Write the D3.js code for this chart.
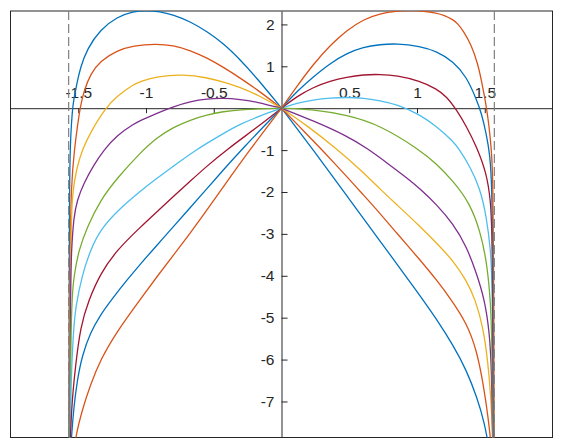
<!DOCTYPE html>
<html>
<head>
<meta charset="utf-8">
<script src="https://cdn.jsdelivr.net/npm/d3@7"></script>
<style>
body { margin: 0; background: #fff; }
text { font-family: Arial, "Liberation Sans", Helvetica, sans-serif; }
</style>
</head>
<body>
<svg id="chart" width="561" height="448"></svg>
<script>
// tick values
var xTicks = [-1.5, -1, -0.5, 0.5, 1, 1.5];
var yTicks = [2, 1, -1, -2, -3, -4, -5, -6, -7];
var asymptotes = [-Math.PI / 2, Math.PI / 2];
var colors = ['#0072BD', '#D95319', '#EDB120', '#7E2F8E', '#77AC30', '#4DBEEE', '#A2142F', '#0072BD', '#D95319'];

// curves, [x, y]
var curve1 = [[-1.569,-8.2],[-1.566,-3.0],[-1.563,-1.0],[-1.543,0],[-1.533,0.2],[-1.51,0.6],[-1.484,0.97],[-1.434,1.42],[-1.336,1.88],[-1.213,2.18],[-1.093,2.31],[-1.0,2.33],[-0.9,2.31],[-0.798,2.23],[-0.675,2.07],[-0.55,1.83],[-0.43,1.55],[-0.305,1.16],[-0.182,0.72],[0,0],[0.235,-1.0],[0.482,-2.09],[0.727,-3.17],[1.022,-4.47],[1.145,-5.04],[1.267,-5.66],[1.366,-6.26],[1.44,-6.88],[1.50,-7.52],[1.535,-8.2]];
var curve2 = [[-1.567,-8.2],[-1.561,-3.5],[-1.552,-1.8],[-1.528,-0.98],[-1.505,-0.4],[-1.484,0.05],[-1.459,0.40],[-1.41,0.82],[-1.336,1.13],[-1.213,1.38],[-1.093,1.49],[-0.93,1.54],[-0.798,1.50],[-0.673,1.38],[-0.55,1.20],[-0.43,0.98],[-0.305,0.72],[-0.182,0.45],[0,0],[0.187,-0.62],[0.297,-0.99],[0.482,-1.63],[0.604,-2.07],[0.727,-2.51],[0.85,-2.98],[1.022,-3.62],[1.145,-4.10],[1.255,-4.58],[1.366,-5.13],[1.44,-5.77],[1.488,-6.56],[1.525,-7.36],[1.552,-8.2]];
var curve3 = [[-1.565,-8.2],[-1.557,-3.0],[-1.543,-2.0],[-1.513,-1.45],[-1.47,-0.98],[-1.40,-0.52],[-1.30,0],[-1.213,0.29],[-1.091,0.57],[-1.042,0.64],[-0.919,0.76],[-0.723,0.81],[-0.55,0.73],[-0.428,0.63],[-0.305,0.50],[-0.182,0.33],[0,0],[0.182,-0.40],[0.408,-0.97],[0.604,-1.53],[0.727,-1.93],[0.85,-2.30],[1.022,-2.82],[1.145,-3.22],[1.267,-3.64],[1.366,-4.12],[1.427,-4.54],[1.488,-5.21],[1.525,-6.1],[1.545,-6.9],[1.557,-7.75],[1.561,-8.2]];
var curve4 = [[-1.563,-8.2],[-1.557,-4.17],[-1.550,-3.38],[-1.533,-2.59],[-1.508,-2.19],[-1.459,-1.79],[-1.386,-1.36],[-1.312,-1.0],[-1.213,-0.64],[-1.091,-0.38],[-1.042,-0.29],[-0.919,-0.12],[-0.796,0.04],[-0.673,0.16],[-0.55,0.225],[-0.43,0.24],[-0.305,0.21],[-0.182,0.15],[0,0],[0.235,-0.30],[0.482,-0.66],[0.629,-0.95],[0.801,-1.36],[0.924,-1.66],[1.022,-1.92],[1.145,-2.30],[1.267,-2.76],[1.366,-3.30],[1.44,-3.95],[1.50,-4.58],[1.535,-5.36],[1.550,-6.17],[1.560,-8.2]];
var curve5 = [[-1.562,-8.2],[-1.554,-5.29],[-1.545,-4.50],[-1.533,-4.02],[-1.496,-3.38],[-1.434,-2.83],[-1.336,-2.19],[-1.213,-1.67],[-1.042,-1.06],[-0.919,-0.70],[-0.796,-0.45],[-0.673,-0.28],[-0.55,-0.16],[-0.43,-0.08],[-0.305,-0.03],[0,0],[0.235,-0.03],[0.482,-0.16],[0.727,-0.40],[1.022,-1.0],[1.145,-1.33],[1.267,-1.74],[1.39,-2.27],[1.464,-2.91],[1.513,-3.62],[1.543,-4.58],[1.553,-5.53],[1.562,-8.2]];
var curve6 = [[-1.560,-8.2],[-1.554,-6.48],[-1.537,-5.4],[-1.521,-4.75],[-1.471,-3.98],[-1.41,-3.38],[-1.336,-2.90],[-1.213,-2.45],[-1.042,-1.98],[-0.919,-1.67],[-0.796,-1.38],[-0.636,-1.0],[-0.428,-0.60],[-0.305,-0.38],[-0.15,-0.17],[0,0],[0.113,0.12],[0.235,0.20],[0.358,0.245],[0.482,0.26],[0.604,0.245],[0.727,0.18],[0.85,0.09],[1.022,-0.15],[1.145,-0.44],[1.267,-0.79],[1.316,-1.0],[1.39,-1.39],[1.464,-1.90],[1.513,-2.59],[1.543,-3.38],[1.557,-4.17],[1.563,-8.2]];
var curve7 = [[-1.561,-8.2],[-1.557,-7.75],[-1.545,-6.96],[-1.521,-6.17],[-1.484,-5.21],[-1.423,-4.58],[-1.336,-3.94],[-1.213,-3.38],[-1.042,-2.84],[-0.919,-2.47],[-0.796,-2.10],[-0.673,-1.74],[-0.55,-1.38],[-0.408,-1.0],[-0.182,-0.46],[0,0],[0.113,0.28],[0.235,0.50],[0.358,0.65],[0.482,0.745],[0.604,0.80],[0.727,0.81],[0.85,0.78],[1.022,0.65],[1.145,0.46],[1.218,0.28],[1.292,-0.04],[1.366,-0.44],[1.44,-0.92],[1.513,-1.55],[1.543,-2.19],[1.557,-2.98],[1.565,-8.2]];
var curve8 = [[-1.556,-8.2],[-1.550,-7.84],[-1.533,-7.15],[-1.508,-6.50],[-1.471,-5.90],[-1.41,-5.35],[-1.336,-4.93],[-1.25,-4.55],[-1.14,-4.10],[-1.042,-3.72],[-0.919,-3.27],[-0.796,-2.82],[-0.673,-2.37],[-0.55,-1.92],[-0.428,-1.47],[-0.305,-1.02],[0,0],[0.113,0.40],[0.235,0.75],[0.358,1.07],[0.482,1.31],[0.604,1.46],[0.727,1.52],[0.85,1.545],[1.022,1.48],[1.145,1.36],[1.267,1.12],[1.366,0.75],[1.44,0.20],[1.476,-0.12],[1.512,-0.62],[1.538,-1.1],[1.552,-1.8],[1.560,-3.5],[1.566,-8.2]];
var curve9 = [[-1.53,-8.2],[-1.521,-7.86],[-1.471,-7.20],[-1.41,-6.6],[-1.336,-6.0],[-1.213,-5.32],[-1.042,-4.56],[-0.919,-4.02],[-0.796,-3.50],[-0.673,-2.98],[-0.55,-2.43],[-0.428,-1.87],[-0.236,-1.0],[0,0],[0.113,0.52],[0.235,1.05],[0.358,1.50],[0.482,1.86],[0.604,2.12],[0.727,2.26],[0.85,2.32],[0.95,2.33],[1.05,2.32],[1.145,2.27],[1.2,2.22],[1.267,2.11],[1.3,2.02],[1.341,1.85],[1.4,1.52],[1.45,1.05],[1.476,0.65],[1.5,0.25],[1.513,0.0],[1.53,-0.38],[1.55,-1.0],[1.56,-1.7],[1.566,-3.5],[1.569,-8.2]];
var curves = [curve1, curve2, curve3, curve4, curve5, curve6, curve7, curve8, curve9];

var plotLeft = 10.5, plotRight = 552.5, plotTop = 11, plotBottom = 437.5;
var svg = d3.select('#chart');

var x = d3.scaleLinear().domain([-2, 2]).range([plotLeft, plotRight]);
var y = d3.scaleLinear().domain([-7.86, 2.32]).range([plotBottom, plotTop]);

svg.append('defs').append('clipPath').attr('id', 'plot-clip')
    .append('rect')
    .attr('x', plotLeft).attr('y', plotTop)
    .attr('width', plotRight - plotLeft).attr('height', plotBottom - plotTop);

svg.append('rect')
    .attr('x', plotLeft).attr('y', plotTop)
    .attr('width', plotRight - plotLeft).attr('height', plotBottom - plotTop)
    .style('fill', '#fff')
    .style('stroke', '#262626')
    .style('stroke-width', 1);

// axes through the origin
var xAxis = d3.axisTop(x)
    .tickValues(xTicks)
    .tickFormat(function(d) { return String(d); })
    .tickSizeInner(-5)
    .tickSizeOuter(0)
    .tickPadding(10);

var yAxis = d3.axisLeft(y)
    .tickValues(yTicks)
    .tickFormat(function(d) { return String(d); })
    .tickSizeInner(-6)
    .tickSizeOuter(0)
    .tickPadding(7);

var gx = svg.append('g')
    .attr('transform', 'translate(0,' + y(0) + ')')
    .call(xAxis);
var gy = svg.append('g')
    .attr('transform', 'translate(' + x(0) + ',0)')
    .call(yAxis);

[gx, gy].forEach(function(g) {
    g.select('.domain').style('stroke', '#262626');
    g.selectAll('.tick line').style('stroke', '#262626');
    g.selectAll('.tick text')
        .style('fill', '#262626')
        .style('font-size', '15.5px')
        .style('font-family', 'Arial, "Liberation Sans", Helvetica, sans-serif');
});

// each curve drawn as two halves that both start at the origin
var halves = [];
curves.forEach(function(c, i) {
    var neg = c.filter(function(d) { return d[0] <= 0; }).reverse();
    var pos = c.filter(function(d) { return d[0] >= 0; });
    halves.push({ color: colors[i], pts: neg });
    halves.push({ color: colors[i], pts: pos });
});

var line = d3.line()
    .x(function(d) { return x(d[0]); })
    .y(function(d) { return y(d[1]); })
    .curve(d3.curveBasis);

var plot = svg.append('g').attr('clip-path', 'url(#plot-clip)');

plot.selectAll('path.curve')
    .data(halves)
    .enter().append('path')
    .attr('class', 'curve')
    .attr('d', function(d) { return line(d.pts); })
    .style('fill', 'none')
    .style('stroke', function(d) { return d.color; })
    .style('stroke-width', 1.3);

plot.selectAll('line.asym')
    .data(asymptotes)
    .enter().append('line')
    .attr('class', 'asym')
    .attr('x1', function(d) { return x(d); })
    .attr('x2', function(d) { return x(d); })
    .attr('y1', plotTop)
    .attr('y2', plotBottom)
    .style('stroke', '#7f7f7f')
    .style('stroke-width', 1.2)
    .style('stroke-dasharray', '9,4');
</script>
</body>
</html>
